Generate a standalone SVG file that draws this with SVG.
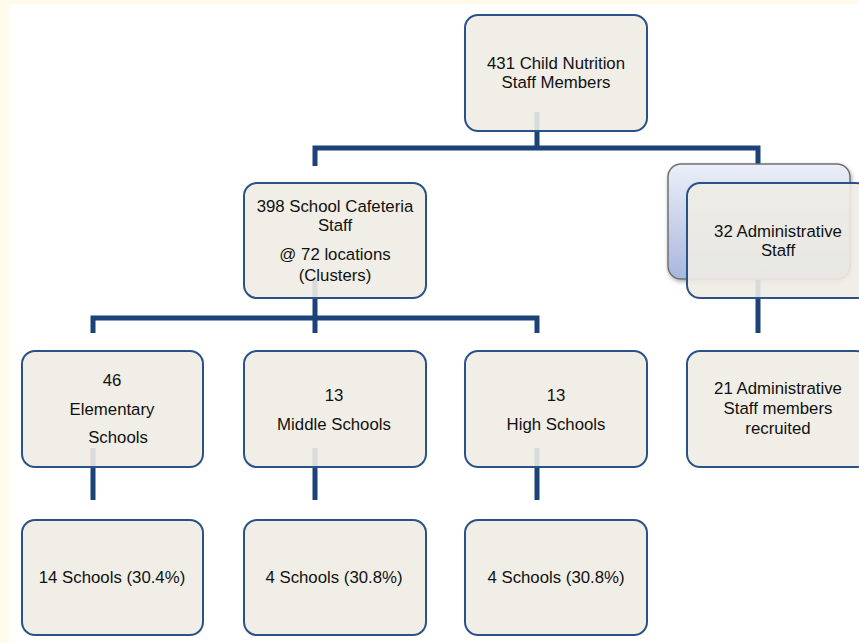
<svg xmlns="http://www.w3.org/2000/svg" width="859" height="643" viewBox="0 0 859 643">
  <defs>
    <linearGradient id="backGrad" x1="0" y1="0" x2="0" y2="1">
      <stop offset="0" stop-color="#eceff8"/>
      <stop offset="1" stop-color="#a7b7dd"/>
    </linearGradient>
    <filter id="shadow" x="-10%" y="-10%" width="130%" height="130%">
      <feDropShadow dx="1" dy="2" stdDeviation="2" flood-color="#000" flood-opacity="0.35"/>
    </filter>
  </defs>
  <style>
    .box { fill: #eeece4; fill-opacity: 0.9; stroke: #2a5288; stroke-width: 2; }
    .back { fill: url(#backGrad); stroke: #707070; stroke-width: 1.5; }
    .conn { fill: none; stroke: #1d4279; stroke-width: 5; stroke-linejoin: miter; stroke-linecap: butt; }
    text { font-family: "Liberation Sans", Arial, sans-serif; font-size: 16.8px; fill: #111111; text-anchor: middle; }
  </style>
  <rect x="0" y="0" width="859" height="643" fill="#fffbea"/>
  <rect x="9" y="4" width="850" height="639" fill="#ffffff"/>

  <g id="connectors">
    <path class="conn" d="M537,112 V148 M315,166 V148 H758 V165"/>
    <path class="conn" d="M315,280 V318 M93,333 V318 H537 V333 M315,318 V333"/>
    <path class="conn" d="M758,280 V333"/>
    <path class="conn" d="M93,448 V500 M315,448 V500 M537,448 V500"/>
  </g>

  <g id="n-total">
    <rect class="box" x="465" y="15" width="182" height="116" rx="13"/>
    <text x="556" y="69">431 Child Nutrition</text>
    <text x="556" y="88">Staff Members</text>
  </g>

  <g id="n-cafeteria">
    <rect class="box" x="244" y="183" width="182" height="115" rx="13"/>
    <text x="335" y="212">398 School Cafeteria</text>
    <text x="335" y="231">Staff</text>
    <text x="335" y="260">@ 72 locations</text>
    <text x="335" y="281">(Clusters)</text>
  </g>

  <g id="n-admin">
    <rect class="back" x="668" y="164" width="182" height="115" rx="13" filter="url(#shadow)"/>
    <rect class="box" x="687" y="183" width="182" height="115" rx="13"/>
    <text x="778" y="237">32 Administrative</text>
    <text x="778" y="256">Staff</text>
  </g>

  <g id="n-elementary">
    <rect class="box" x="22" y="351" width="181" height="116" rx="13"/>
    <text x="112" y="386">46</text>
    <text x="112" y="415">Elementary</text>
    <text x="118" y="443">Schools</text>
  </g>

  <g id="n-middle">
    <rect class="box" x="244" y="351" width="182" height="116" rx="13"/>
    <text x="334" y="401">13</text>
    <text x="334" y="430">Middle Schools</text>
  </g>

  <g id="n-high">
    <rect class="box" x="465" y="351" width="182" height="116" rx="13"/>
    <text x="556" y="401">13</text>
    <text x="556" y="430">High Schools</text>
  </g>

  <g id="n-admin-recruited">
    <rect class="box" x="687" y="351" width="182" height="116" rx="13"/>
    <text x="778" y="394">21 Administrative</text>
    <text x="778" y="414">Staff members</text>
    <text x="778" y="434">recruited</text>
  </g>

  <g id="n-elem-pct">
    <rect class="box" x="22" y="520" width="181" height="115" rx="13"/>
    <text x="112" y="583">14 Schools (30.4%)</text>
  </g>

  <g id="n-middle-pct">
    <rect class="box" x="244" y="520" width="182" height="115" rx="13"/>
    <text x="334" y="583">4 Schools (30.8%)</text>
  </g>

  <g id="n-high-pct">
    <rect class="box" x="465" y="520" width="182" height="115" rx="13"/>
    <text x="556" y="583">4 Schools (30.8%)</text>
  </g>
</svg>
